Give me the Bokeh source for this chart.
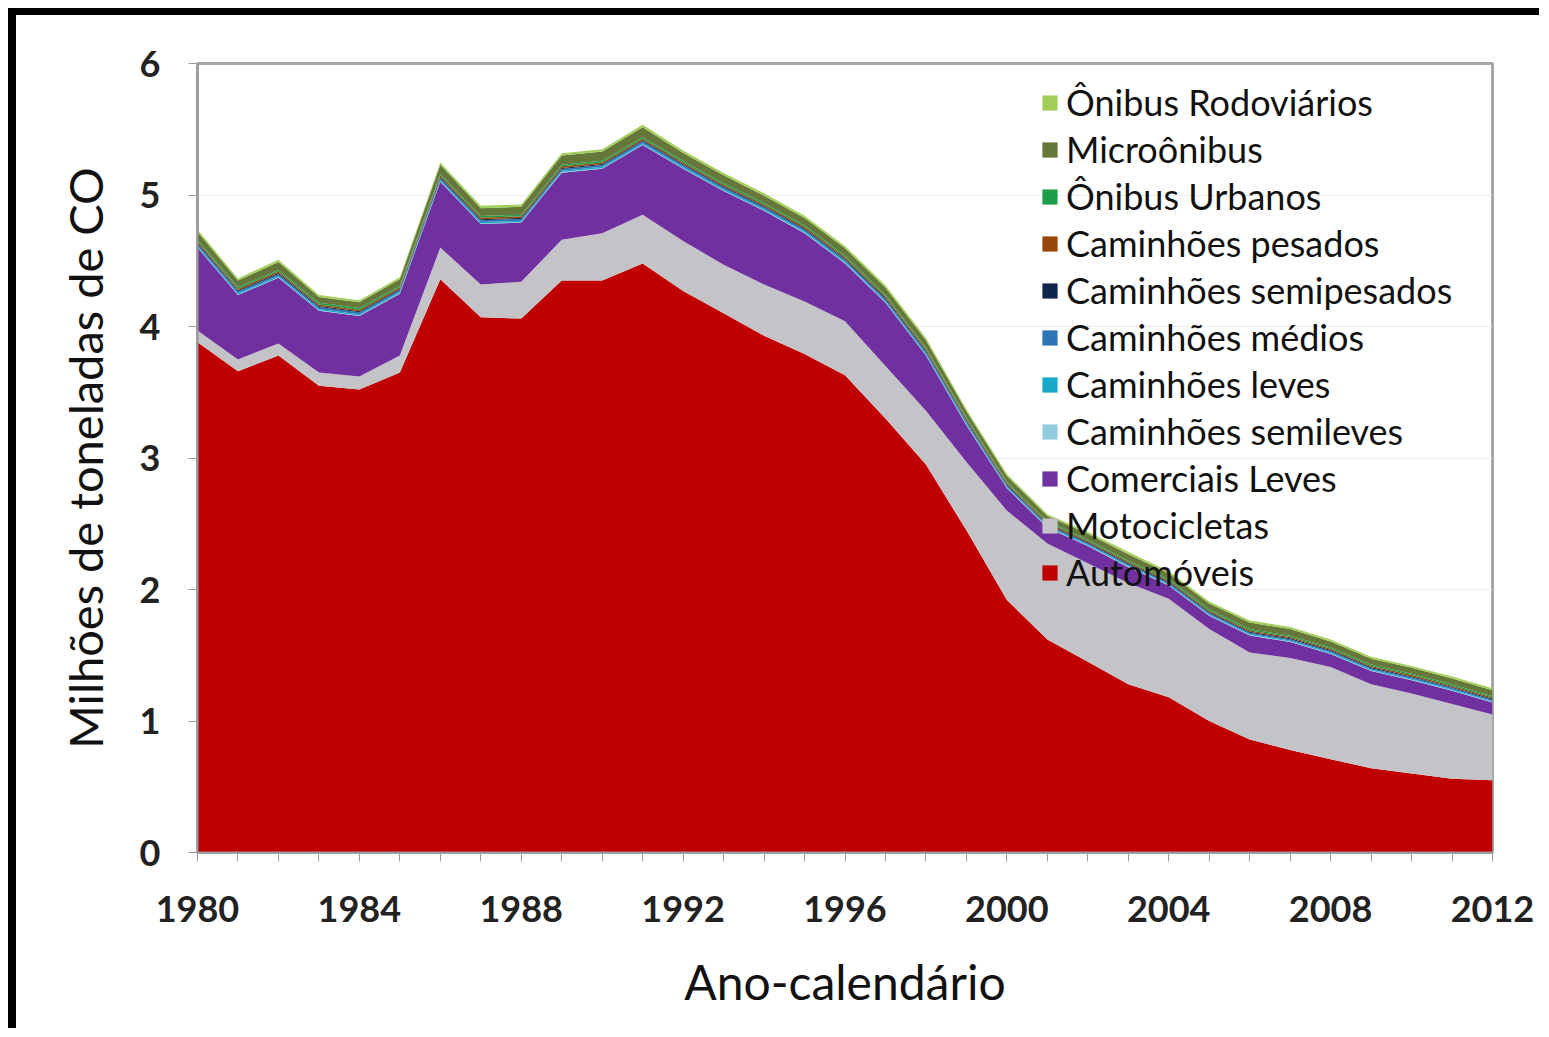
from bokeh.plotting import figure
from bokeh.models import (ColumnDataSource, Range1d, FixedTicker, Legend, LegendItem)
from bokeh.embed import file_html
from bokeh.resources import INLINE

years = list(range(1980, 2013))

automoveis = [3.88, 3.66, 3.78, 3.55, 3.52, 3.65, 4.36, 4.07, 4.06, 4.35, 4.35, 4.48,
              4.27, 4.10, 3.93, 3.79, 3.63, 3.30, 2.95, 2.45, 1.92, 1.62, 1.45, 1.28,
              1.18, 1.00, 0.86, 0.78, 0.71, 0.64, 0.60, 0.56, 0.55]
motocicletas = [0.09, 0.09, 0.09, 0.10, 0.10, 0.13, 0.24, 0.25, 0.28, 0.31, 0.36, 0.37,
                0.38, 0.37, 0.39, 0.40, 0.41, 0.40, 0.41, 0.52, 0.68, 0.73, 0.75, 0.77,
                0.75, 0.70, 0.66, 0.70, 0.70, 0.64, 0.61, 0.57, 0.50]
comerciais_leves = [0.63, 0.49, 0.50, 0.47, 0.46, 0.47, 0.50, 0.46, 0.45, 0.51, 0.49, 0.53,
                    0.55, 0.56, 0.56, 0.52, 0.44, 0.48, 0.42, 0.28, 0.17, 0.12, 0.13, 0.12,
                    0.10, 0.10, 0.13, 0.12, 0.10, 0.10, 0.10, 0.10, 0.09]
cam_semileves = [0.004, 0.004, 0.004, 0.004, 0.004, 0.004, 0.004, 0.004, 0.004, 0.004, 0.004,
                 0.004, 0.004, 0.004, 0.004, 0.004, 0.004, 0.004, 0.004, 0.004, 0.004, 0.004,
                 0.004, 0.004, 0.004, 0.004, 0.004, 0.004, 0.004, 0.004, 0.004, 0.004, 0.004]
cam_leves = [0.010, 0.010, 0.010, 0.010, 0.010, 0.010, 0.010, 0.010, 0.010, 0.010, 0.010,
             0.010, 0.010, 0.010, 0.010, 0.010, 0.010, 0.010, 0.010, 0.010, 0.008, 0.008,
             0.008, 0.008, 0.008, 0.008, 0.008, 0.008, 0.008, 0.008, 0.008, 0.008, 0.008]
cam_medios = [0.014, 0.014, 0.014, 0.014, 0.014, 0.014, 0.014, 0.014, 0.014, 0.014, 0.014,
              0.014, 0.014, 0.014, 0.014, 0.014, 0.014, 0.014, 0.014, 0.014, 0.010, 0.010,
              0.010, 0.010, 0.010, 0.010, 0.010, 0.010, 0.010, 0.010, 0.010, 0.010, 0.010]
cam_semipesados = [0.008, 0.008, 0.008, 0.008, 0.008, 0.008, 0.008, 0.008, 0.008, 0.008, 0.008,
                   0.008, 0.008, 0.008, 0.008, 0.008, 0.008, 0.008, 0.008, 0.008, 0.007, 0.007,
                   0.007, 0.007, 0.007, 0.007, 0.007, 0.007, 0.007, 0.007, 0.007, 0.007, 0.007]
cam_pesados = [0.012, 0.012, 0.012, 0.012, 0.012, 0.012, 0.012, 0.012, 0.012, 0.012, 0.012,
               0.012, 0.012, 0.012, 0.012, 0.012, 0.012, 0.012, 0.012, 0.012, 0.010, 0.010,
               0.010, 0.010, 0.010, 0.010, 0.010, 0.010, 0.010, 0.010, 0.010, 0.010, 0.010]
onibus_urbanos = [0.012, 0.012, 0.012, 0.012, 0.012, 0.012, 0.012, 0.012, 0.012, 0.012, 0.012,
                  0.012, 0.012, 0.012, 0.012, 0.012, 0.012, 0.012, 0.012, 0.012, 0.010, 0.010,
                  0.010, 0.010, 0.010, 0.010, 0.010, 0.010, 0.010, 0.010, 0.010, 0.010, 0.010]
microonibus = [0.060, 0.050, 0.060, 0.045, 0.045, 0.050, 0.070, 0.060, 0.060, 0.070, 0.070,
               0.075, 0.060, 0.060, 0.055, 0.055, 0.055, 0.055, 0.055, 0.045, 0.045, 0.040,
               0.045, 0.050, 0.045, 0.045, 0.050, 0.050, 0.045, 0.045, 0.045, 0.045, 0.045]
onibus_rodoviarios = [0.018, 0.015, 0.018, 0.015, 0.015, 0.015, 0.018, 0.018, 0.018, 0.018, 0.018,
                      0.020, 0.018, 0.018, 0.018, 0.018, 0.018, 0.018, 0.018, 0.016, 0.015, 0.013,
                      0.015, 0.016, 0.015, 0.015, 0.016, 0.016, 0.015, 0.015, 0.015, 0.015, 0.015]

series_keys = ["automoveis", "motocicletas", "comerciais_leves", "cam_semileves", "cam_leves",
               "cam_medios", "cam_semipesados", "cam_pesados", "onibus_urbanos",
               "microonibus", "onibus_rodoviarios"]
series_labels = ["Automóveis", "Motocicletas", "Comerciais Leves", "Caminhões semileves",
                 "Caminhões leves", "Caminhões médios", "Caminhões semipesados",
                 "Caminhões pesados", "Ônibus Urbanos", "Microônibus", "Ônibus Rodoviários"]
series_colors = ["#C00000", "#C4C4C8", "#7030A0", "#93CDDD", "#17A9C9", "#2E75B6",
                 "#10264A", "#974806", "#1E9E4A", "#65783A", "#A2CF5A"]

x_tick_labels = ["1980", "1984", "1988", "1992", "1996", "2000", "2004", "2008", "2012"]
y_ticks = [0, 1, 2, 3, 4, 5, 6]

source = ColumnDataSource(dict(
    year=years, automoveis=automoveis, motocicletas=motocicletas,
    comerciais_leves=comerciais_leves, cam_semileves=cam_semileves, cam_leves=cam_leves,
    cam_medios=cam_medios, cam_semipesados=cam_semipesados, cam_pesados=cam_pesados,
    onibus_urbanos=onibus_urbanos, microonibus=microonibus,
    onibus_rodoviarios=onibus_rodoviarios))

p = figure(width=1531, height=1020, output_backend="svg", toolbar_location=None,
           x_range=Range1d(1980, 2012), y_range=Range1d(0, 6),
           min_border_left=181, min_border_top=48, min_border_right=55,
           min_border_bottom=183)
p.styles = {"border-left": "8px solid black", "border-top": "7px solid black",
            "margin-left": "8px", "margin-top": "8px"}

renderers = p.varea_stack(stackers=series_keys, x="year", color=series_colors,
                          source=source)

items = [LegendItem(label=lab, renderers=[r]) for lab, r in zip(series_labels, renderers)]
items = items[::-1]
legend = Legend(items=items, location=(843, 258), padding=0, margin=0,
                border_line_color=None, background_fill_alpha=0,
                label_text_font="Lato", label_text_font_size="36px",
                label_text_color="#111111", glyph_width=19, glyph_height=19,
                label_height=43, spacing=3, label_standoff=7)
p.add_layout(legend)

tick_vals = [int(t) for t in x_tick_labels]
p.xaxis.ticker = FixedTicker(ticks=tick_vals, minor_ticks=years)
p.yaxis.ticker = FixedTicker(ticks=y_ticks)
p.xaxis.major_label_overrides = {int(t): t for t in x_tick_labels}

for ax in (p.xaxis, p.yaxis):
    ax.axis_line_color = "#9a9a9a"
    ax.axis_line_width = 2
    ax.major_tick_line_color = "#9a9a9a"
    ax.major_tick_in = 0
    ax.major_tick_out = 9
    ax.minor_tick_line_color = "#9a9a9a"
    ax.minor_tick_in = 0
    ax.minor_tick_out = 9
    ax.major_label_text_font = "Lato"
    ax.major_label_text_font_style = "bold"
    ax.major_label_text_font_size = "36px"
    ax.major_label_text_color = "#222222"
    ax.axis_label_text_font = "Lato"
    ax.axis_label_text_font_style = "normal"
    ax.axis_label_text_font_size = "47px"
    ax.axis_label_text_color = "#111111"

p.xaxis.axis_label_text_font_size = "48px"
p.yaxis.minor_tick_line_color = None
p.yaxis.major_label_standoff = 28
p.xaxis.major_label_standoff = 34
p.xaxis.axis_label = "Ano-calendário"
p.yaxis.axis_label = "Milhões de toneladas de CO"
p.xaxis.axis_label_standoff = 28
p.yaxis.axis_label_standoff = 24

p.xgrid.grid_line_color = None
p.ygrid.grid_line_color = "#ececec"
p.ygrid.grid_line_width = 1

p.outline_line_color = "#a6a6a6"
p.outline_line_width = 3
p.background_fill_color = "white"
p.border_fill_color = "white"

open("out.html", "w").write(file_html(p, INLINE))
